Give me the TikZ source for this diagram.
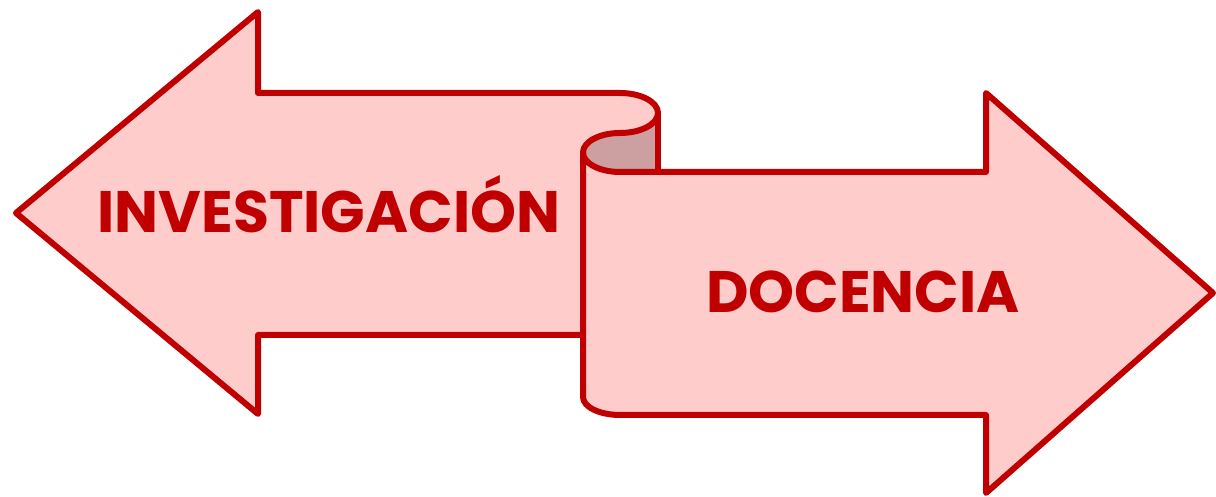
\documentclass[tikz,border=0pt]{standalone}
\usepackage{fontspec}
\setmainfont{Poppins}
\definecolor{arrred}{HTML}{C00000}
\definecolor{arrpink}{HTML}{FFCCCC}
\definecolor{arrdark}{HTML}{CCA0A0}
\begin{document}
\begin{tikzpicture}[x=1pt,y=1pt,
  outl/.style={draw=arrred,line width=6pt,line join=round,line cap=round},
  lbl/.style={text=arrred,font=\fontsize{58.5}{64}\selectfont\bfseries,inner sep=0pt}]
\useasboundingbox (0,0) rectangle (1216,497);
% left arrow fill
\fill[arrpink] (600,162) -- (258,162) -- (258,83) -- (16,284) -- (258,485) -- (258,404) -- (620,404)
  arc[start angle=90,end angle=-90,x radius=38,y radius=20] -- (600,364) -- cycle;
\draw[outl] (583,162) -- (258,162) -- (258,83) -- (16,284) -- (258,485) -- (258,404) -- (620,404)
  arc[start angle=90,end angle=0,x radius=38,y radius=20];
% back of scroll
\fill[arrdark] (658,384) arc[start angle=0,end angle=-90,x radius=38,y radius=20]
  arc[start angle=90,end angle=270,x radius=37,y radius=19.5] -- (658,325) -- cycle;
\draw[outl] (658,384) -- (658,325);
% right arrow
\filldraw[outl,fill=arrpink] (583,344.5) -- (583,100)
  arc[start angle=180,end angle=270,x radius=37,y radius=18] -- (986,82) -- (986,4) -- (1213,204)
  -- (986,404) -- (986,325) -- (620,325)
  arc[start angle=270,end angle=180,x radius=37,y radius=19.5];
% curl
\draw[outl] (658,384) arc[start angle=0,end angle=-90,x radius=38,y radius=20]
  arc[start angle=90,end angle=180,x radius=37,y radius=19.5];
\node[lbl] (inv) at (329,293) {INVESTIGACIÓN};
\node[lbl] (doc) at (863,205) {DOCENCIA};
\end{tikzpicture}
\end{document}
